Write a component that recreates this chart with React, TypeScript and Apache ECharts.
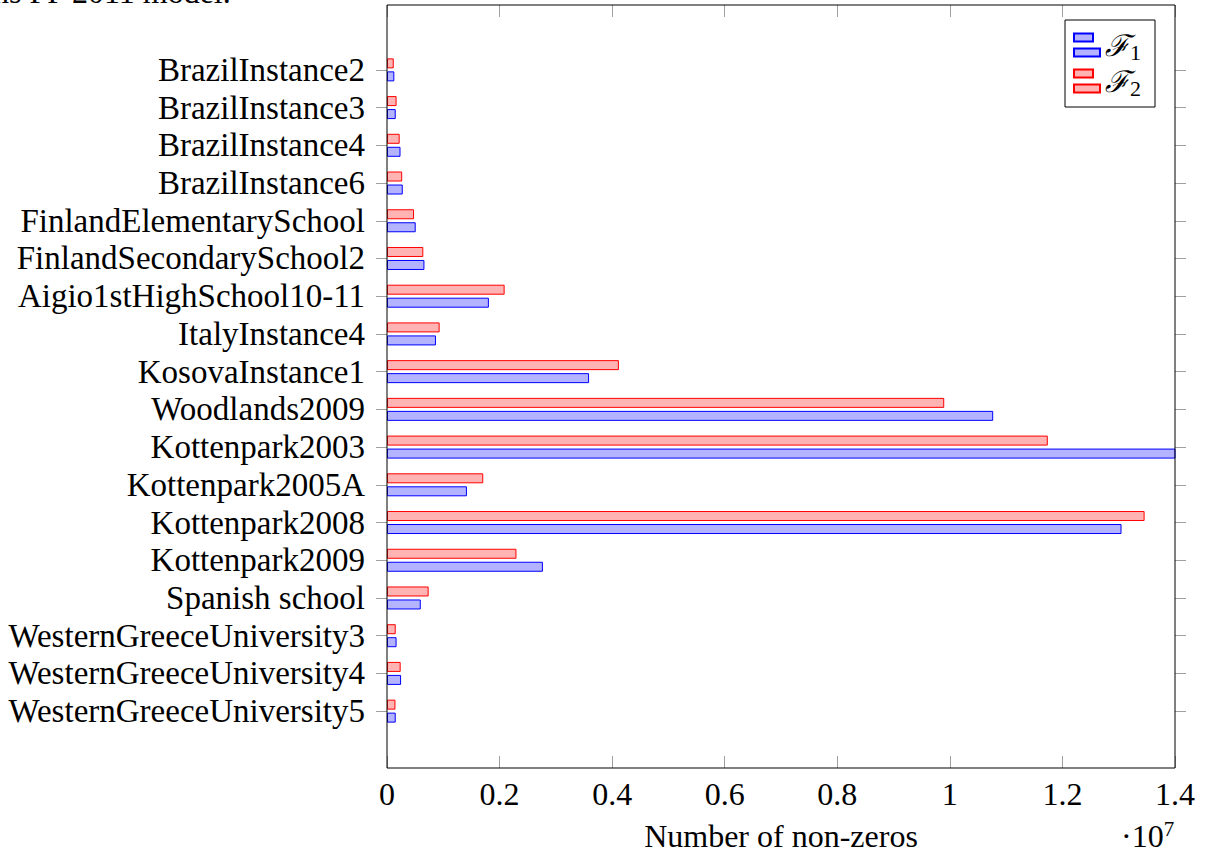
import React, { useEffect, useRef } from "react";
import * as echarts from "echarts";

const categories = [
  "BrazilInstance2",
  "BrazilInstance3",
  "BrazilInstance4",
  "BrazilInstance6",
  "FinlandElementarySchool",
  "FinlandSecondarySchool2",
  "Aigio1stHighSchool10-11",
  "ItalyInstance4",
  "KosovaInstance1",
  "Woodlands2009",
  "Kottenpark2003",
  "Kottenpark2005A",
  "Kottenpark2008",
  "Kottenpark2009",
  "Spanish school",
  "WesternGreeceUniversity3",
  "WesternGreeceUniversity4",
  "WesternGreeceUniversity5",
];

const f1Values = [
  130000, 155000, 240000, 280000, 510000, 665000, 1810000, 870000, 3590000,
  10770000, 14500000, 1420000, 13050000, 2770000, 600000, 170000, 250000, 155000,
];

const f2Values = [
  120000, 170000, 225000, 270000, 480000, 645000, 2090000, 935000, 4120000,
  9900000, 11740000, 1710000, 13460000, 2300000, 740000, 155000, 243000, 150000,
];

const seriesNames = ["ℱ1", "ℱ2"];
const xTicks = [0, 2000000, 4000000, 6000000, 8000000, 10000000, 12000000, 14000000];
const xTickLabels = ["0", "0.2", "0.4", "0.6", "0.8", "1", "1.2", "1.4"];

const FONT = "'Liberation Serif', 'DejaVu Serif', serif";
const FS = 32;

export default function App() {
  const ref = useRef<HTMLDivElement>(null);
  useEffect(() => {
    if (!ref.current) return;
    const chart = echarts.init(ref.current, undefined, { renderer: "svg" });
    const xMin = xTicks[0];
    const xMax = xTicks[xTicks.length - 1];
    const xInterval = xTicks[1] - xTicks[0];
    const labelFor = (v: number) => {
      const i = xTicks.indexOf(v);
      return i >= 0 ? xTickLabels[i] : "";
    };
    const tickGray = "#a0a0a0";
    chart.setOption({
      animation: false,
      backgroundColor: "#fff",
      textStyle: { fontFamily: FONT },
      grid: [
        { left: 387, right: 39, top: 5, bottom: 84, show: true, borderColor: "#000", borderWidth: 1, backgroundColor: "transparent", z: 10 },
        { left: 387, right: 39, top: 51, height: 679 },
      ],
      xAxis: [
        {
          gridIndex: 0,
          type: "value",
          position: "bottom",
          min: xMin,
          max: xMax,
          interval: xInterval,
          splitLine: { show: false },
          axisLine: { show: false },
          axisTick: { show: true, inside: true, length: 12, lineStyle: { color: tickGray, width: 1 } },
          axisLabel: { formatter: labelFor, fontFamily: FONT, fontSize: FS, color: "#000", margin: 10 },
          name: "Number of non-zeros",
          nameLocation: "middle",
          nameGap: 52,
          nameTextStyle: { fontFamily: FONT, fontSize: FS, color: "#000" },
        },
        {
          gridIndex: 0,
          type: "value",
          position: "top",
          min: xMin,
          max: xMax,
          interval: xInterval,
          splitLine: { show: false },
          axisLine: { show: false },
          axisTick: { show: true, inside: true, length: 12, lineStyle: { color: tickGray, width: 1 } },
          axisLabel: { show: false },
        },
        {
          gridIndex: 1,
          type: "value",
          min: xMin,
          max: xMax,
          show: false,
        },
      ],
      yAxis: [
        { gridIndex: 0, type: "value", show: false, min: 0, max: 1 },
        {
          gridIndex: 1,
          type: "category",
          data: categories,
          inverse: true,
          position: "left",
          axisLine: { show: false },
          axisTick: { show: true, alignWithLabel: true, interval: 0, length: 11, lineStyle: { color: tickGray } },
          axisLabel: { interval: 0, fontFamily: FONT, fontSize: 33, color: "#000", margin: 22 },
          splitLine: { show: false },
        },
        {
          gridIndex: 1,
          type: "category",
          data: categories,
          inverse: true,
          position: "right",
          axisLine: { show: false },
          axisTick: { show: true, alignWithLabel: true, interval: 0, length: 11, lineStyle: { color: tickGray } },
          axisLabel: { show: false },
          splitLine: { show: false },
        },
      ],
      legend: {
        orient: "vertical",
        left: 1065,
        top: 20,
        width: 94,
        data: seriesNames,
        backgroundColor: "#fff",
        borderColor: "#000",
        borderWidth: 1,
        borderRadius: 0,
        padding: [10, 14, 8, 8],
        itemWidth: 26,
        itemHeight: 23,
        itemGap: 3,
        icon: "path://M0,0H19V8H0Z M0,15H26V23H0Z",
        formatter: (name: string) => `{a|${name[0]}}{b|${name.slice(1)}}`,
        textStyle: {
          color: "#000",
          rich: {
            a: { fontFamily: "'DejaVu Serif', serif", fontStyle: "italic", fontSize: 30, color: "#000" },
            b: { fontFamily: FONT, fontSize: 22, color: "#000", verticalAlign: "bottom", padding: [14, 0, 0, 0] },
          },
        },
        z: 20,
      },
      series: [
        {
          name: seriesNames[1],
          type: "bar",
          xAxisIndex: 2,
          yAxisIndex: 1,
          data: f2Values,
          barWidth: 10,
          barGap: "30%",
          clip: true,
          itemStyle: { color: "#ffb3b3", borderColor: "#ff0000", borderWidth: 1 },
        },
        {
          name: seriesNames[0],
          type: "bar",
          xAxisIndex: 2,
          yAxisIndex: 1,
          data: f1Values,
          barWidth: 10,
          barGap: "30%",
          clip: true,
          itemStyle: { color: "#b3b3ff", borderColor: "#0000ff", borderWidth: 1 },
        },
      ],
      graphic: [
        {
          type: "text",
          left: -30,
          top: -24,
          style: { text: "ains PP 2011 model.", fontFamily: FONT, fontSize: FS, fill: "#000" },
        },
        {
          type: "text",
          left: 1121,
          top: 818,
          style: {
            text: "{a|·10}{b|7}",
            rich: {
              a: { fontFamily: FONT, fontSize: FS, fill: "#000" },
              b: { fontFamily: FONT, fontSize: 21, fill: "#000", verticalAlign: "top", padding: [0, 0, 14, 0] },
            },
          },
        },
      ],
    });
    return () => chart.dispose();
  }, []);
  return (
    <div
      ref={ref}
      style={{ position: "absolute", left: 0, top: 0, width: 1214, height: 857 }}
    />
  );
}
